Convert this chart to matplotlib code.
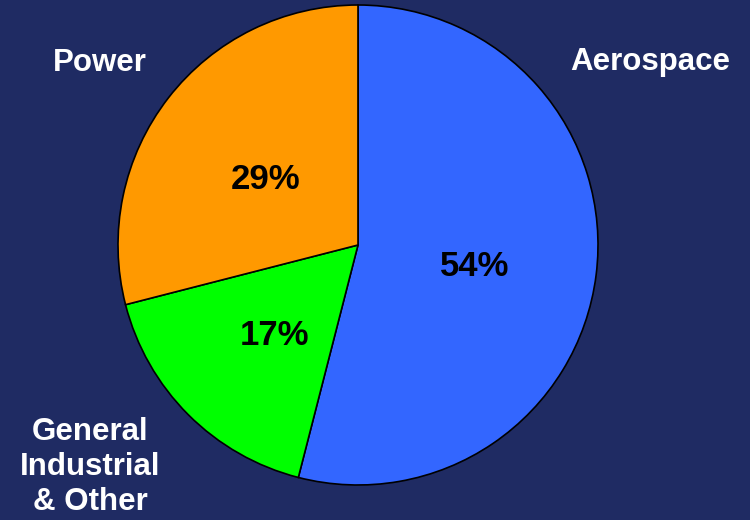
import matplotlib.pyplot as plt

plt.rcParams['font.family'] = ['Liberation Sans', 'DejaVu Sans']

# data
sectors = ['Aerospace', 'General\nIndustrial\n& Other', 'Power']
shares = [54, 17, 29]
colors = ['#3366FF', '#00FF00', '#FF9900']

bg = '#1F2B63'

fig = plt.figure(figsize=(7.5, 5.2), dpi=100, facecolor=bg)
ax = fig.add_axes([0, 0, 1, 1])
ax.set_facecolor(bg)

wedges, texts, autotexts = ax.pie(
    shares, colors=colors, startangle=90, counterclock=False,
    center=(358, 275), radius=240, autopct='%d%%', pctdistance=0.49,
    wedgeprops=dict(edgecolor='black', linewidth=1.2),
    textprops=dict(fontsize=25, fontweight='bold', color='black'))
# nudge percentages down a little
for t in autotexts:
    x, y = t.get_position()
    t.set_position((x, y - 7))

ax.set_xlim(0, 750)
ax.set_ylim(0, 520)
ax.set_aspect('equal')
ax.axis('off')

# outer category labels
label_style = dict(color='white', fontsize=22.5, fontweight='bold',
                   ha='center', va='center', linespacing=1.2)
ax.text(650, 458, sectors[0], **label_style)
ax.text(90, 53, sectors[1], **label_style)
ax.text(100, 457, sectors[2], **label_style)

fig.savefig('out.png', dpi=100, facecolor=bg)
